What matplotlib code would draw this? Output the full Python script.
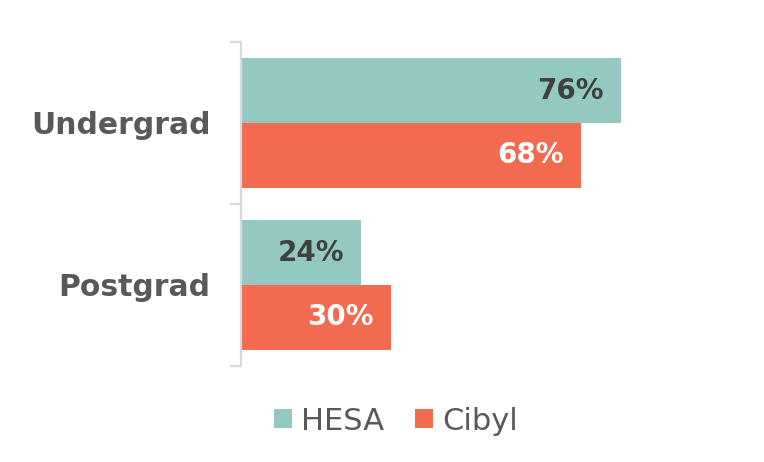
import numpy as np
import matplotlib.pyplot as plt

categories = ["Undergrad", "Postgrad"]
series_names = ["HESA", "Cibyl"]
hesa = [76, 24]
cibyl = [68, 30]

colors = ["#93C9C0", "#F26A50"]
label_colors = ["#404040", "#FFFFFF"]

plt.rcParams['font.family'] = ['DejaVu Sans']

fig = plt.figure(figsize=(7.64, 4.62), dpi=100)
ax = fig.add_axes([241 / 764, 1 - 366 / 462, 500 / 764, 324 / 462])

centers = np.arange(len(categories)) + 0.5
bar_h = 0.4
for i, (vals, name) in enumerate(zip([hesa, cibyl], series_names)):
    ypos = centers - bar_h / 2 + i * bar_h
    bars = ax.barh(ypos, vals, height=bar_h, color=colors[i], label=name)
    for b, v in zip(bars, vals):
        ax.text(v - 3.4, b.get_y() + b.get_height() / 2, f"{v}%",
                ha="right", va="center", fontsize=20, fontweight="bold",
                color=label_colors[i])

ax.set_xlim(0, 100)
ax.set_ylim(len(categories), 0)

for s in ["top", "right", "bottom"]:
    ax.spines[s].set_visible(False)
ax.spines["left"].set_color("#D9D9D9")
ax.spines["left"].set_linewidth(1.6)
ax.set_xticks([])

ax.set_yticks(np.arange(len(categories) + 1))
ax.set_yticklabels([])
ax.tick_params(axis="y", which="major", length=8, width=1.6, color="#D9D9D9")
ax.set_yticks(centers, minor=True)
ax.set_yticklabels(categories, minor=True, fontsize=21.5, fontweight="bold",
                   color="#595959")
ax.tick_params(axis="y", which="minor", length=0, pad=22)

leg = fig.legend(loc="center", bbox_to_anchor=(396 / 764, 1 - 421 / 462),
                 ncol=2, frameon=False, fontsize=22, handlelength=0.6,
                 handleheight=0.6, handletextpad=0.3, columnspacing=1.0,
                 labelcolor="#595959")

fig.savefig("out.png", dpi=100, facecolor="white")
